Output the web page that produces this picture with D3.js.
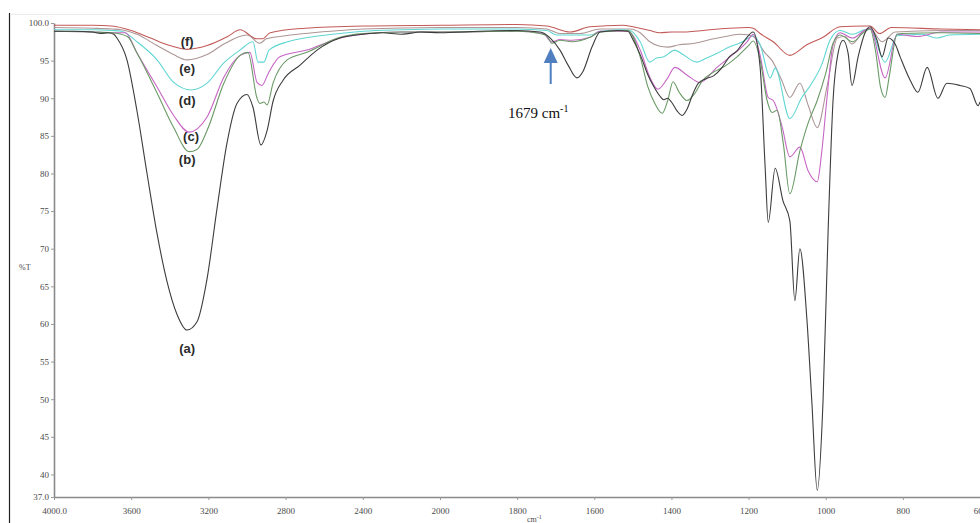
<!DOCTYPE html>
<html>
<head>
<meta charset="utf-8">
<script src="https://cdn.jsdelivr.net/npm/d3@7"></script>
<style>
  body { margin: 0; background: #fff; }
  svg { display: block; }
</style>
</head>
<body>
<div id="ftir"></div>
<script>
// spectra: wavenumber (cm-1) and %T for each sample
var wnA = [4000, 3900, 3800, 3760, 3720, 3690, 3674, 3622, 3570, 3518, 3466, 3415, 3363, 3311, 3259, 3207, 3155, 3104, 3052, 3000, 2969, 2928, 2896, 2865, 2813, 2725, 2637, 2518, 2400, 2300, 2200, 2100, 2000, 1900, 1800, 1741, 1714, 1689, 1668, 1645, 1629, 1606, 1585, 1540, 1513, 1500, 1481, 1460, 1445, 1430, 1420, 1410, 1400, 1385, 1372, 1360, 1345, 1330, 1310, 1290, 1270, 1250, 1230, 1210, 1188, 1170, 1157, 1149, 1131, 1111, 1093, 1080, 1067, 1049, 1036, 1022, 1007, 994, 981, 968, 955, 942, 932, 916, 898, 885, 867, 854, 838, 820, 807, 781, 761, 737, 709, 686, 652, 626, 605, 600];
var tA = [98.9, 98.9, 98.8, 98.6, 98.7, 98.5, 98.0, 95.1, 88.3, 80, 72, 65.7, 61.3, 59.2, 60.3, 66, 75.4, 84, 89.3, 90.5, 88.8, 83.8, 85.7, 89.6, 92.4, 94.4, 96.4, 98.0, 98.5, 98.7, 98.5, 98.8, 98.7, 98.9, 99.0, 98.8, 98.0, 96.4, 94.4, 92.7, 93.6, 96.8, 98.8, 99.0, 98.9, 97.8, 95.8, 93, 91.5, 90.3, 89.8, 90.0, 89.5, 88.3, 87.7, 88.5, 90.5, 92, 92.6, 93, 94, 95.5, 96.3, 97.7, 98.8, 94.1, 80.8, 73.5, 80.7, 76.4, 73.7, 63.1, 70, 60.8, 49.7, 37.9, 49.7, 72, 89.7, 96, 97.7, 96, 91.7, 95.5, 98.7, 99.5, 97.7, 95.5, 98.0, 97.2, 95.5, 92.4, 90.8, 94.1, 90, 92, 91.7, 91.3, 89, 89.5];

var wnB = [4000, 3800, 3700, 3620, 3570, 3466, 3380, 3300, 3259, 3207, 3120, 3036, 2995, 2948, 2933, 2912, 2896, 2865, 2792, 2690, 2518, 2400, 2200, 2000, 1800, 1741, 1723, 1710, 1689, 1658, 1611, 1585, 1513, 1481, 1461, 1443, 1424, 1409, 1396, 1380, 1360, 1340, 1320, 1290, 1260, 1230, 1200, 1188, 1170, 1152, 1139, 1126, 1110, 1093, 1067, 1045, 1022, 1000, 981, 963, 930, 905, 885, 870, 858, 846, 835, 815, 800, 700, 600];
var tB = [98.9, 98.8, 98.7, 98.2, 96.0, 90.7, 86.1, 82.9, 83.2, 85.7, 92, 95.7, 96.1, 90, 89.3, 89.5, 89.1, 92, 95.1, 96.1, 98.1, 98.6, 98.8, 98.8, 98.9, 98.6, 98.3, 97.3, 97.7, 97.5, 98.1, 98.8, 99.0, 95.5, 91.5, 89.3, 88, 89.8, 92.2, 90.8, 89.7, 90.6, 92.3, 93.5, 94.3, 95.5, 97, 97.6, 95.1, 89.7, 88.1, 88.4, 84, 77.3, 83, 86.8, 89.7, 93.3, 97.3, 98.4, 97.5, 98.6, 99.2, 96, 91.5, 90.1, 93, 98.5, 98.6, 98.7, 98.6];

var wnC = [4000, 3800, 3700, 3630, 3570, 3466, 3380, 3300, 3207, 3120, 3036, 2985, 2948, 2923, 2890, 2830, 2690, 2518, 2400, 2200, 2000, 1800, 1733, 1710, 1689, 1658, 1611, 1585, 1513, 1481, 1456, 1435, 1412, 1391, 1360, 1326, 1282, 1248, 1204, 1188, 1170, 1149, 1136, 1113, 1093, 1067, 1046, 1022, 1010, 996, 981, 963, 930, 900, 885, 846, 815, 763, 700, 600];
var tC = [98.9, 98.8, 98.7, 98.7, 96.0, 91.5, 87.7, 85.5, 87.5, 92.8, 95.7, 96.1, 92.1, 91.7, 93.3, 95.5, 96.4, 98.0, 98.5, 98.8, 98.8, 98.9, 98.6, 97.5, 97.8, 97.7, 98.1, 98.9, 98.9, 96.4, 92.8, 91.2, 92.5, 94.1, 93.1, 92.1, 94.1, 95.5, 97.5, 98.5, 95.7, 90.1, 89.7, 86.2, 82.2, 83.5, 80.4, 78.9, 83, 90.4, 97.1, 98.7, 98, 99, 99.3, 92.7, 98.5, 98.2, 98.8, 98.8];

var wnD = [4000, 3800, 3700, 3650, 3570, 3466, 3380, 3290, 3207, 3120, 3036, 2969, 2943, 2912, 2886, 2790, 2518, 2400, 2200, 2000, 1800, 1723, 1697, 1611, 1585, 1530, 1507, 1481, 1456, 1440, 1420, 1391, 1370, 1334, 1310, 1280, 1250, 1220, 1200, 1188, 1170, 1144, 1131, 1093, 1062, 1036, 1010, 989, 963, 930, 900, 885, 846, 815, 750, 711, 680, 600];
var tD = [99.1, 99.1, 99.0, 98.9, 97.5, 95.1, 92.1, 91.1, 92, 94.7, 96.4, 97.5, 94.8, 94.8, 96.4, 97.5, 98.6, 98.9, 99.1, 99.2, 99.2, 99.0, 98.4, 98.4, 98.9, 99.1, 99.0, 97.5, 94.8, 95.3, 95.5, 96.4, 95.8, 94.8, 95.3, 96, 96.8, 97.4, 98, 98.3, 97.1, 92.7, 94, 87.3, 90.1, 92, 94.5, 97.7, 99.0, 98.5, 99.1, 99.2, 94.8, 98.3, 98.5, 98.0, 98.4, 98.5];

var wnE = [4000, 3800, 3700, 3650, 3570, 3466, 3380, 3311, 3207, 3120, 3000, 2933, 2900, 2800, 2518, 2400, 2000, 1800, 1723, 1689, 1637, 1585, 1507, 1481, 1456, 1430, 1410, 1380, 1340, 1300, 1260, 1220, 1188, 1157, 1139, 1115, 1093, 1067, 1045, 1022, 996, 970, 950, 932, 900, 885, 854, 820, 700, 600];
var tE = [99.4, 99.3, 99.2, 99.1, 98.5, 97.0, 95.8, 95.1, 95.8, 97.2, 98.4, 97.3, 97.9, 98.3, 99.0, 99.2, 99.4, 99.4, 99.2, 98.6, 98.6, 99.2, 99.2, 98.7, 97.5, 96.9, 96.8, 97.1, 97.3, 97.8, 98.2, 98.5, 98.2, 96.0, 95.0, 92.5, 90.1, 92, 89, 86.1, 91.7, 98, 98.2, 97.2, 99.0, 99.3, 97.5, 98.8, 99.0, 99.0];

var wnF = [4000, 3800, 3700, 3600, 3500, 3400, 3311, 3207, 3100, 3036, 2950, 2920, 2880, 2700, 2400, 2000, 1800, 1723, 1663, 1611, 1526, 1500, 1456, 1430, 1400, 1370, 1340, 1300, 1250, 1200, 1188, 1170, 1136, 1093, 1049, 1007, 963, 900, 885, 860, 830, 700, 600];
var tF = [99.7, 99.7, 99.6, 99.0, 98.0, 97.0, 96.5, 97.0, 98.2, 99.1, 97.9, 97.9, 98.7, 99.3, 99.6, 99.7, 99.8, 99.6, 98.8, 99.5, 99.7, 99.5, 99.0, 98.7, 98.8, 98.8, 98.9, 99.1, 99.3, 99.4, 99.3, 98.6, 97.5, 95.7, 97.1, 98.1, 99.5, 99.6, 99.6, 98.6, 99.4, 99.2, 99.1];

var sampleNames = ["(a)", "(b)", "(c)", "(d)", "(e)", "(f)"];
var sampleColors = ["#3c3c3c", "#6a9a66", "#c766c4", "#5fd6d2", "#ad9696", "#c25a58"];

var xTicks = [4000, 3600, 3200, 2800, 2400, 2000, 1800, 1600, 1400, 1200, 1000, 800, 600];
var yTicks = [37, 40, 45, 50, 55, 60, 65, 70, 75, 80, 85, 90, 95, 100];

var spectra = [
  { name: sampleNames[0], color: sampleColors[0], pts: d3.zip(wnA, tA) },
  { name: sampleNames[1], color: sampleColors[1], pts: d3.zip(wnB, tB) },
  { name: sampleNames[2], color: sampleColors[2], pts: d3.zip(wnC, tC) },
  { name: sampleNames[3], color: sampleColors[3], pts: d3.zip(wnD, tD) },
  { name: sampleNames[4], color: sampleColors[4], pts: d3.zip(wnE, tE) },
  { name: sampleNames[5], color: sampleColors[5], pts: d3.zip(wnF, tF) }
];

var width = 980, height = 523;

// instrument plot: scale expands below 2000 cm-1
var x = d3.scaleLinear().domain([4000, 2000, 600]).range([54, 440, 980]);
var y = d3.scaleLinear().domain([37, 100]).range([497, 23]);

var svg = d3.select("#ftir")
  .append("svg")
  .attr("width", width)
  .attr("height", height);

// frame of the figure
svg.append("line")
  .attr("x1", 9.5).attr("x2", 9.5)
  .attr("y1", 13).attr("y2", height)
  .attr("stroke", "#222").attr("stroke-width", 1.2);
svg.append("line")
  .attr("x1", 10).attr("x2", width)
  .attr("y1", 14.5).attr("y2", 14.5)
  .attr("stroke", "#ebebeb").attr("stroke-width", 1);

var yAxis = d3.axisLeft(y)
  .tickValues(yTicks)
  .tickSize(3)
  .tickSizeOuter(0)
  .tickPadding(2)
  .tickFormat(function (d) { return (d === 100 || d === 37) ? d.toFixed(1) : d; });

var xAxis = d3.axisBottom(x)
  .tickValues(xTicks)
  .tickSize(3)
  .tickSizeOuter(0)
  .tickPadding(8)
  .tickFormat(function (d) { return d === 4000 ? d.toFixed(1) : d; });

var gy = svg.append("g")
  .attr("transform", "translate(" + x(4000) + ",0)")
  .call(yAxis);

var gx = svg.append("g")
  .attr("transform", "translate(0," + y(37) + ")")
  .call(xAxis);

[gx, gy].forEach(function (g) {
  g.select(".domain").attr("stroke", "#8a8a8a").attr("stroke-width", 1.6);
  g.selectAll(".tick line").attr("stroke", "#9a9a9a");
  g.selectAll(".tick text")
    .attr("fill", "#4a4a4a")
    .style("font-family", "'Liberation Serif', serif")
    .style("font-size", "9px");
});

svg.append("text")
  .attr("x", 19).attr("y", 270)
  .attr("fill", "#4a4a4a")
  .style("font-family", "'Liberation Serif', serif")
  .style("font-size", "8px")
  .text("%T");

var cmLabel = svg.append("text")
  .attr("x", 527).attr("y", 522)
  .attr("fill", "#4a4a4a")
  .style("font-family", "'Liberation Serif', serif")
  .style("font-size", "8px");
cmLabel.append("tspan").text("cm");
cmLabel.append("tspan").attr("dy", -3).style("font-size", "6px").text("-1");

var line = d3.line()
  .x(function (d) { return x(d[0]); })
  .y(function (d) { return y(d[1]); })
  .curve(d3.curveMonotoneX);

svg.selectAll(".spectrum")
  .data(spectra.slice().reverse())
  .enter()
  .append("path")
  .attr("class", "spectrum")
  .attr("fill", "none")
  .attr("stroke", function (d) { return d.color; })
  .attr("stroke-width", 1.1)
  .attr("d", function (d) { return line(d.pts); });

// sample labels sit under each O-H band (baseline in %T units)
var labelT = [56.2, 81.3, 84.3, 89.1, 93.3, 97.0];
svg.selectAll(".sample")
  .data(sampleNames)
  .enter()
  .append("text")
  .attr("class", "sample")
  .attr("x", function (d, i) { return x(i === 2 ? 3290 : 3310); })
  .attr("y", function (d, i) { return y(labelT[i]); })
  .attr("text-anchor", "middle")
  .attr("fill", "#2a2a2a")
  .style("font-family", "'Liberation Sans', sans-serif")
  .style("font-weight", "bold")
  .style("font-size", "13px")
  .text(function (d) { return d; });

// marker for the 1679 cm-1 band
var ax = x(1713);
svg.append("line")
  .attr("x1", ax).attr("x2", ax)
  .attr("y1", 60).attr("y2", 84)
  .attr("stroke", "#4f7fc0").attr("stroke-width", 2);
svg.append("path")
  .attr("d", "M" + (ax - 7) + ",63 L" + ax + ",48 L" + (ax + 7) + ",63 Z")
  .attr("fill", "#4f7fc0");

var bandLabel = svg.append("text")
  .attr("x", 508).attr("y", 118)
  .attr("fill", "#111")
  .style("font-family", "'Liberation Serif', serif")
  .style("font-size", "15px");
bandLabel.append("tspan").text("1679 cm");
bandLabel.append("tspan").attr("dy", -6).style("font-size", "10px").text("-1");
</script>
</body>
</html>
